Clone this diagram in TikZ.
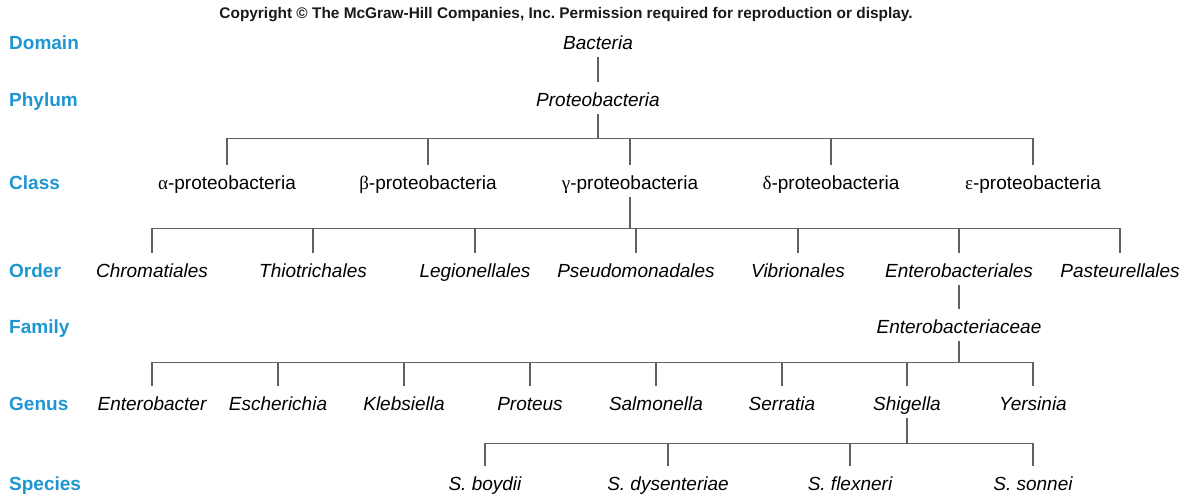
\documentclass[tikz,border=0pt]{standalone}
\usepackage{fontspec}
\setmainfont{Liberation Sans}
\newfontfamily\grk{Liberation Serif}
\usetikzlibrary{positioning}
\definecolor{rankblue}{RGB}{30,150,210}
\newcommand\taxfont{\fontsize{19}{22}\selectfont}

\begin{document}
\begin{tikzpicture}[
  x=1pt, y=-1pt,
  rank/.style={anchor=base west, inner sep=0pt, text=rankblue,
               font=\taxfont\bfseries},
  taxon/.style={anchor=base, inner xsep=0pt, inner ysep=4pt,
                text height=20pt, text depth=4pt, font=\taxfont\itshape},
  cls/.style={taxon, font=\taxfont},
  link/.style={draw=black!62, line width=1.2pt},
  note/.style={anchor=base, inner sep=0pt, text=black!90,
               font=\fontsize{15.4}{18}\selectfont\bfseries},
]
\useasboundingbox (0,0) rectangle (1183,495);

\node[note] (copy) at (566,18.5) {Copyright \textcopyright{} The McGraw-Hill Companies, Inc.\ Permission required for reproduction or display.};

% ranks
\node[rank] (rDomain)  at (9,49)  {Domain};
\node[rank] (rPhylum)  at (9,106) {Phylum};
\node[rank] (rClass)   at (9,189) {Class};
\node[rank] (rOrder)   at (9,277) {Order};
\node[rank] (rFamily)  at (9,333) {Family};
\node[rank] (rGenus)   at (9,410) {Genus};
\node[rank] (rSpecies) at (9,490) {Species};

% domain and phylum
\node[taxon] (bact)   at (598,49)  {Bacteria};
\node[taxon] (proteo) at (598,106) {Proteobacteria};

% classes
\node[cls] (alpha)   at (227,189)  {{\grk α}-proteobacteria};
\node[cls] (beta)    at (428,189)  {{\grk β}-proteobacteria};
\node[cls] (gamma)   at (630,189)  {{\grk γ}-proteobacteria};
\node[cls] (delta)   at (831,189)  {{\grk δ}-proteobacteria};
\node[cls] (epsilon) at (1033,189) {{\grk ε}-proteobacteria};

% orders
\node[taxon] (chrom)   at (152,277)  {Chromatiales};
\node[taxon] (thio)    at (313,277)  {Thiotrichales};
\node[taxon] (legio)   at (475,277)  {Legionellales};
\node[taxon] (pseudo)  at (636,277)  {Pseudomonadales};
\node[taxon] (vibrio)  at (798,277)  {Vibrionales};
\node[taxon] (entero)  at (959,277)  {Enterobacteriales};
\node[taxon] (pasteur) at (1120,277) {Pasteurellales};

% family
\node[taxon] (enfam) at (959,333) {Enterobacteriaceae};

% genera
\node[taxon] (enb)  at (152,410)  {Enterobacter};
\node[taxon] (esch) at (278,410)  {Escherichia};
\node[taxon] (kleb) at (404,410)  {Klebsiella};
\node[taxon] (prot) at (530,410)  {Proteus};
\node[taxon] (salm) at (656,410)  {Salmonella};
\node[taxon] (serr) at (782,410)  {Serratia};
\node[taxon] (shig) at (907,410)  {Shigella};
\node[taxon] (yers) at (1033,410) {Yersinia};

% species
\node[taxon] (sboy) at (485,490)  {S. boydii};
\node[taxon] (sdys) at (668,490)  {S. dysenteriae};
\node[taxon] (sfle) at (850,490)  {S. flexneri};
\node[taxon] (sson) at (1033,490) {S. sonnei};

\draw[link] (bact) -- (proteo);
\foreach \c in {alpha,beta,gamma,delta,epsilon}
  \draw[link] (proteo.south) -- ++(0,24) -| (\c.north);
\foreach \c in {chrom,thio,legio,pseudo,vibrio,entero,pasteur}
  \draw[link] (gamma.south) -- ++(0,31) -| (\c.north);
\draw[link] (entero) -- (enfam);
\foreach \c in {enb,esch,kleb,prot,salm,serr,shig,yers}
  \draw[link] (enfam.south) -- ++(0,21) -| (\c.north);
\foreach \c in {sboy,sdys,sfle,sson}
  \draw[link] (shig.south) -- ++(0,25) -| (\c.north);

\end{tikzpicture}
\end{document}
